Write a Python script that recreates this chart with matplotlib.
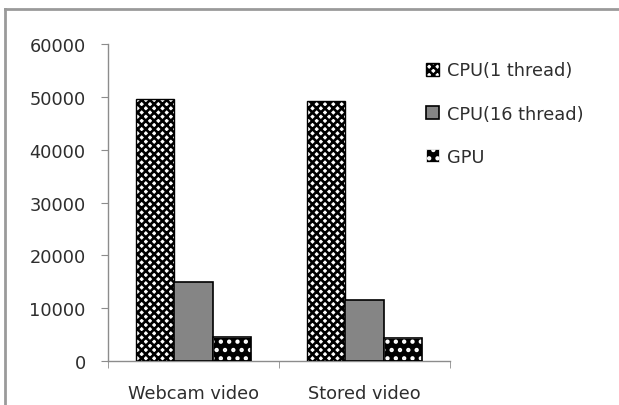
import numpy as np
import matplotlib
matplotlib.use('Agg')
import matplotlib.pyplot as plt
from matplotlib.lines import Line2D

categories = ['Webcam video', 'Stored video']
series_names = ['CPU(1 thread)', 'CPU(16 thread)', 'GPU']
cpu1 = [49600, 49200]
cpu16 = [15000, 11600]
gpu = [4600, 4300]
yticks = [0, 10000, 20000, 30000, 40000, 50000, 60000]

plt.rcParams['font.family'] = 'DejaVu Sans'
plt.rcParams['hatch.linewidth'] = 1.9
txt = '#2e2e2e'
axis_col = '#8c8c8c'
fs = 12.8

fig = plt.figure(figsize=(6.19, 4.06), dpi=100)
ax = fig.add_axes([0.1745, 0.1084, 0.5525, 0.7806])

x = np.arange(len(categories)) + 0.5
w = 0.224

b1 = ax.bar(x - w, cpu1, w, facecolor='white', edgecolor='black', hatch='xxxx',
            linewidth=1.0, label=series_names[0], zorder=3)
b2 = ax.bar(x, cpu16, w, facecolor='#858585', edgecolor='black',
            linewidth=1.2, label=series_names[1], zorder=3)
b3 = ax.bar(x + w, gpu, w, facecolor='black', edgecolor='white', hatch='..',
            linewidth=0.5, label=series_names[2], zorder=3)
# black outline over the dotted GPU bars
ax.bar(x + w, gpu, w, fill=False, edgecolor='black', linewidth=1.2, zorder=4)

ax.set_xlim(0, 2)
ax.set_ylim(0, 60000)
ax.set_yticks(yticks)
ax.set_yticklabels([str(v) for v in yticks])
ax.set_xticks(x)
ax.set_xticklabels(categories)
ax.set_xticks([0, 1, 2], minor=True)

for s in ['top', 'right']:
    ax.spines[s].set_visible(False)
for s in ['left', 'bottom']:
    ax.spines[s].set_color(axis_col)
    ax.spines[s].set_linewidth(1.0)

ax.tick_params(axis='y', length=5, color=axis_col, pad=11, labelsize=fs, labelcolor=txt)
ax.tick_params(axis='x', which='major', length=0, pad=16.5, labelsize=fs, labelcolor=txt)
ax.tick_params(axis='x', which='minor', length=5, color=axis_col)

leg = ax.legend(handles=[b1, b2, b3], loc='upper left', bbox_to_anchor=(0.676, 0.864),
                bbox_transform=fig.transFigure, frameon=False, fontsize=fs,
                handlelength=0.75, handleheight=0.75, handletextpad=0.45,
                labelspacing=1.42, borderaxespad=0)
for t in leg.get_texts():
    t.set_color(txt)

# gray frame of the original chart area
fig.add_artist(Line2D([5 / 619, 5 / 619], [0, 1 - 10 / 406], transform=fig.transFigure,
                      color='#9a9a9a', linewidth=2))
fig.add_artist(Line2D([5 / 619, 1], [1 - 10 / 406, 1 - 10 / 406], transform=fig.transFigure,
                      color='#9a9a9a', linewidth=2))

fig.savefig('out.png', dpi=100)
